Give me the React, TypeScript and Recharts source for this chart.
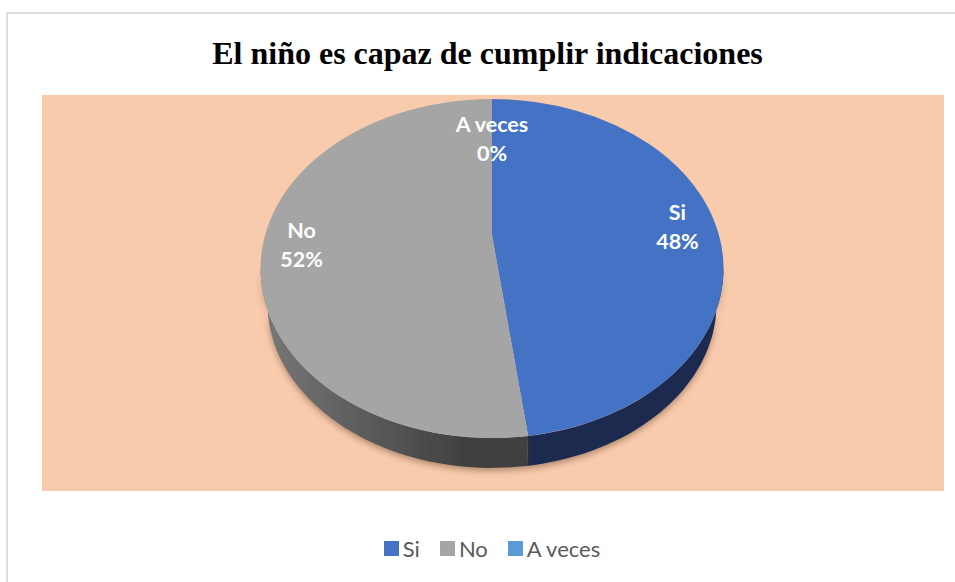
import React from 'react';
import { PieChart, Pie, Legend } from 'recharts';

const categories = ['Si', 'No', 'A veces'];
const shares = [47.5, 52.49, 0];
const colors = ['#4472c4', '#a5a5a5', '#5b9bd5'];
const sideFills = ['#1a2b50', 'url(#sideNo)', '#2f5d8a'];

const chartData = categories.map((name, i) => ({ name, value: shares[i], fill: colors[i] }));

// the tilted disc: top face ellipse, a slightly narrower one below it for the rim
const TILT = 0.732;
const APEX_UP = 33;
const RIM_DROP = 35;
const RIM_SCALE = 0.97;
const rad = (deg: number) => (deg * Math.PI) / 180;

// hand placed label tweaks, the original labels don't sit on a clean radius
const labelNudge: Record<string, number[]> = { Si: [1, 3], No: [-6, 0], 'A veces': [0, -1] };

const renderSlice = (props: any) => {
  const { cx, cy, outerRadius, startAngle, endAngle, fill, index } = props;
  const rx = outerRadius;
  const ry = outerRadius * TILT;
  const t0 = 90 - startAngle;
  const t1 = 90 - endAngle;
  if (t1 - t0 <= 0) return <g />;

  const top = (t: number) => [cx + rx * Math.sin(rad(t)), cy - ry * Math.cos(rad(t))];
  const rim = (t: number) => [
    cx + rx * RIM_SCALE * Math.sin(rad(t)),
    cy + RIM_DROP - ry * RIM_SCALE * Math.cos(rad(t)),
  ];

  // rim only shows on the front half
  const from = Math.max(t0, 90);
  const to = Math.min(t1, 270);
  let side = '';
  if (to > from) {
    const upper: number[][] = [];
    const lower: number[][] = [];
    const steps = Math.ceil((to - from) / 2);
    for (let i = 0; i <= steps; i++) {
      const t = from + ((to - from) * i) / steps;
      upper.push(top(t));
      lower.unshift(rim(t));
    }
    side = 'M' + [...upper, ...lower].map((p) => `${p[0].toFixed(1)} ${p[1].toFixed(1)}`).join('L') + 'Z';
  }

  const a = top(t0);
  const b = top(t1);
  const large = t1 - t0 > 180 ? 1 : 0;
  const face = `M${cx} ${cy - APEX_UP}L${a[0]} ${a[1]}A${rx} ${ry} 0 ${large} 1 ${b[0]} ${b[1]}Z`;

  return (
    <g>
      <defs>
        <linearGradient id="sideNo" gradientUnits="userSpaceOnUse" x1={cx - rx} y1={0} x2={cx - 30} y2={0}>
          <stop offset="0%" stopColor="#787878" />
          <stop offset="100%" stopColor="#414141" />
        </linearGradient>
        <filter id="rimShadow" x="-20%" y="-20%" width="140%" height="140%">
          <feDropShadow dx="0" dy="3" stdDeviation="3" floodColor="#5a3a20" floodOpacity="0.45" />
        </filter>
      </defs>
      {side && <path d={side} fill={sideFills[index]} filter="url(#rimShadow)" />}
      <path d={face} fill={fill} />
    </g>
  );
};

const renderLabel = (props: any) => {
  const { cx, cy, outerRadius, midAngle, percent, name } = props;
  const t = rad(90 - midAngle);
  const f = 0.56 + 0.24 * Math.abs(Math.sin(t));
  const nudge = labelNudge[name] || [0, 0];
  const x = cx + outerRadius * f * Math.sin(t) + nudge[0];
  const y = cy - APEX_UP - outerRadius * TILT * f * Math.cos(t) + nudge[1];
  return (
    <text
      x={x}
      textAnchor="middle"
      fill="#ffffff"
      fontFamily="Lato, sans-serif"
      fontWeight={700}
      fontSize={21.5}
    >
      <tspan x={x} y={y - 8}>{name}</tspan>
      <tspan x={x} y={y + 21}>{`${Math.round(percent * 100)}%`}</tspan>
    </text>
  );
};

const renderLegend = (props: any) => (
  <div style={{ display: 'flex', justifyContent: 'center', gap: 20, fontFamily: 'Lato, sans-serif', fontSize: 22, color: '#595959' }}>
    {props.payload.map((item: any) => (
      <div key={item.value} style={{ display: 'flex', alignItems: 'center', gap: 4 }}>
        <span style={{ width: 15, height: 15, background: item.color, display: 'inline-block' }} />
        <span>{item.value}</span>
      </div>
    ))}
  </div>
);

export default function App() {
  return (
    <div style={{ position: 'absolute', left: 0, top: 0, width: 955, height: 582, overflow: 'hidden', background: '#fff' }}>
      <div style={{ position: 'absolute', left: 6, top: 12, width: 949, height: 570, borderTop: '2px solid #dedede', borderLeft: '2px solid #dedede' }} />
      <div style={{ position: 'absolute', left: 42, top: 95, width: 902, height: 396, background: '#f8cbad' }} />
      <div style={{ position: 'absolute', left: 0, top: 33, width: 975, textAlign: 'center', fontFamily: '"Liberation Serif", serif', fontWeight: 700, fontSize: 32, lineHeight: '40px', color: '#000' }}>
        El niño es capaz de cumplir indicaciones
      </div>
      <PieChart width={955} height={582} margin={{ top: 0, right: 0, bottom: 0, left: 0 }} style={{ position: 'absolute', left: 0, top: 0 }}>
        <Pie
          data={chartData}
          dataKey="value"
          nameKey="name"
          cx={492}
          cy={268.5}
          innerRadius={0}
          outerRadius={231.5}
          startAngle={90}
          endAngle={-270}
          stroke="none"
          shape={renderSlice}
          label={renderLabel}
          labelLine={false}
          isAnimationActive={false}
        />
        <Legend content={renderLegend} itemSorter={null} wrapperStyle={{ position: 'absolute', left: 0, top: 535, width: 984 }} />
      </PieChart>
    </div>
  );
}
